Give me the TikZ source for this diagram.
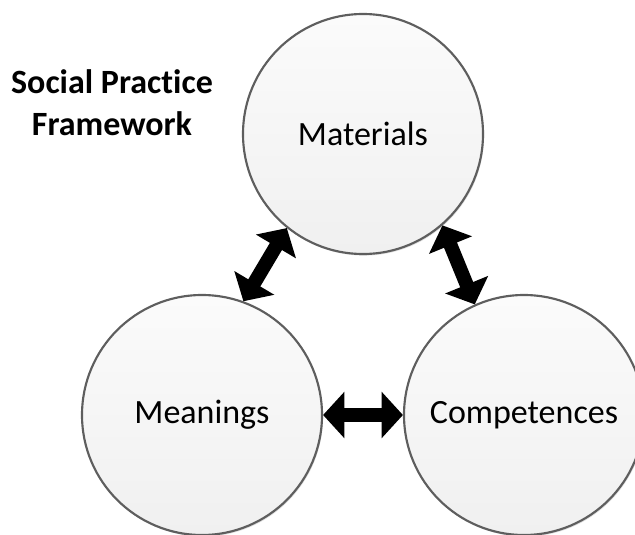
\documentclass[tikz,border=0pt]{standalone}
\usepackage{fontspec}
\setmainfont{Carlito}[Ligatures=CommonOff]
\usetikzlibrary{arrows.meta,shadows}

\definecolor{ringgray}{HTML}{5E5E5E}
\definecolor{disctop}{HTML}{FBFBFB}
\definecolor{discbot}{HTML}{F0F0F0}

\tikzset{
  disc/.style={circle, draw=ringgray, line width=1.6pt, top color=disctop,
    bottom color=discbot, minimum size=180pt, inner sep=0pt,
    font=\fontsize{25.5}{30}\selectfont,
    drop shadow={shadow xshift=0.8pt, shadow yshift=-1.2pt, opacity=0.25}},
  link/.style={line width=10.5pt,
    {Triangle[length=16pt,width=34pt]}-{Triangle[length=16pt,width=34pt]}}
}

\begin{document}
\begin{tikzpicture}[x=0.75pt,y=-0.75pt]

\useasboundingbox (0,0) rectangle (635,535);
\clip (0,0) rectangle (635,535);

\node [font=\fontsize{25.5}{31.5}\selectfont\bfseries, align=center] (title) at (112,103) {Social Practice\\Framework};

\node [disc] (mat) at (363,134) {Materials};
\node [disc] (mean) at (202,415) {Meanings};
\node [disc] (comp) at (524,415) {Competences};

\draw [link] (mat.231) -- (mean.70);
\draw [link] (mat.311.6) -- (comp.114);
\draw [link] (mean.east) -- (comp.west);

\end{tikzpicture}
\end{document}
